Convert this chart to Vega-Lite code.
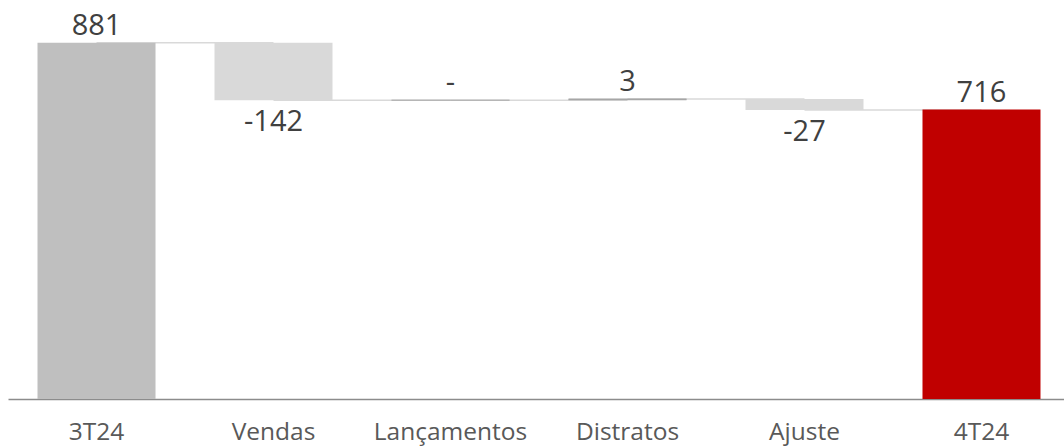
{
  "$schema": "https://vega.github.io/schema/vega-lite/v6.json",
  "width": 1062,
  "height": 399,
  "autosize": {"type": "none"},
  "padding": {"left": 8, "top": 0, "right": 0, "bottom": 47},
  "background": "white",
  "config": {"view": {"stroke": null}, "font": "Open Sans"},
  "data": {
    "values": [
      {"cat": "3T24", "start": 0, "end": 881, "label": "881", "tipo": "inicial", "pos": "above"},
      {"cat": "Vendas", "start": 881, "end": 739, "label": "-142", "tipo": "variacao", "pos": "below"},
      {"cat": "Lançamentos", "start": 739, "end": 739, "label": "-", "tipo": "nulo", "pos": "above"},
      {"cat": "Distratos", "start": 739, "end": 742, "label": "3", "tipo": "nulo", "pos": "above"},
      {"cat": "Ajuste", "start": 742, "end": 715, "label": "-27", "tipo": "variacao", "pos": "below"},
      {"cat": "4T24", "start": 0, "end": 716, "label": "716", "tipo": "final", "pos": "above"}
    ]
  },
  "encoding": {
    "x": {
      "field": "cat",
      "type": "nominal",
      "sort": ["3T24", "Vendas", "Lançamentos", "Distratos", "Ajuste", "4T24"],
      "scale": {"paddingInner": 0.3333, "paddingOuter": 0.1667},
      "axis": {
        "title": null,
        "labelAngle": 0,
        "ticks": false,
        "labelFont": "Open Sans",
        "labelFontSize": 24.5,
        "labelColor": "#595959",
        "labelPadding": 21,
        "domainColor": "#8C8C8C",
        "domainWidth": 1.5
      }
    },
    "y": {"field": "end", "type": "quantitative", "scale": {"domain": [0, 987], "nice": false, "zero": true}, "axis": null}
  },
  "layer": [
    {
      "data": {
        "values": [
          {"id": 1, "cat": "3T24", "level": 881},
          {"id": 1, "cat": "Vendas", "level": 881},
          {"id": 2, "cat": "Vendas", "level": 739},
          {"id": 2, "cat": "Lançamentos", "level": 739},
          {"id": 3, "cat": "Lançamentos", "level": 739},
          {"id": 3, "cat": "Distratos", "level": 739},
          {"id": 4, "cat": "Distratos", "level": 742},
          {"id": 4, "cat": "Ajuste", "level": 742},
          {"id": 5, "cat": "Ajuste", "level": 715},
          {"id": 5, "cat": "4T24", "level": 715}
        ]
      },
      "mark": {"type": "line", "color": "#D9D9D9", "strokeWidth": 1.5},
      "encoding": {
        "y": {"field": "level", "type": "quantitative"},
        "detail": {"field": "id", "type": "nominal"}
      }
    },
    {
      "mark": {"type": "bar"},
      "encoding": {
        "y": {"field": "start", "type": "quantitative"},
        "y2": {"field": "end"},
        "color": {
          "field": "tipo",
          "type": "nominal",
          "scale": {"domain": ["inicial", "variacao", "nulo", "final"], "range": ["#BFBFBF", "#D9D9D9", "#A6A6A6", "#C00000"]},
          "legend": null
        }
      }
    },
    {
      "transform": [{"filter": {"field": "tipo", "equal": "nulo"}}],
      "mark": {"type": "tick", "color": "#A6A6A6", "thickness": 1.5, "size": 118, "orient": "horizontal"}
    },
    {
      "transform": [{"filter": {"field": "pos", "equal": "above"}}],
      "mark": {"type": "text", "baseline": "bottom", "dy": -2, "fontSize": 29, "color": "#404040", "font": "Open Sans"},
      "encoding": {
        "text": {"field": "label", "type": "nominal"}
      }
    },
    {
      "transform": [{"filter": {"field": "pos", "equal": "below"}}],
      "mark": {"type": "text", "baseline": "top", "dy": 8, "fontSize": 29, "color": "#404040", "font": "Open Sans"},
      "encoding": {
        "text": {"field": "label", "type": "nominal"}
      }
    }
  ]
}
